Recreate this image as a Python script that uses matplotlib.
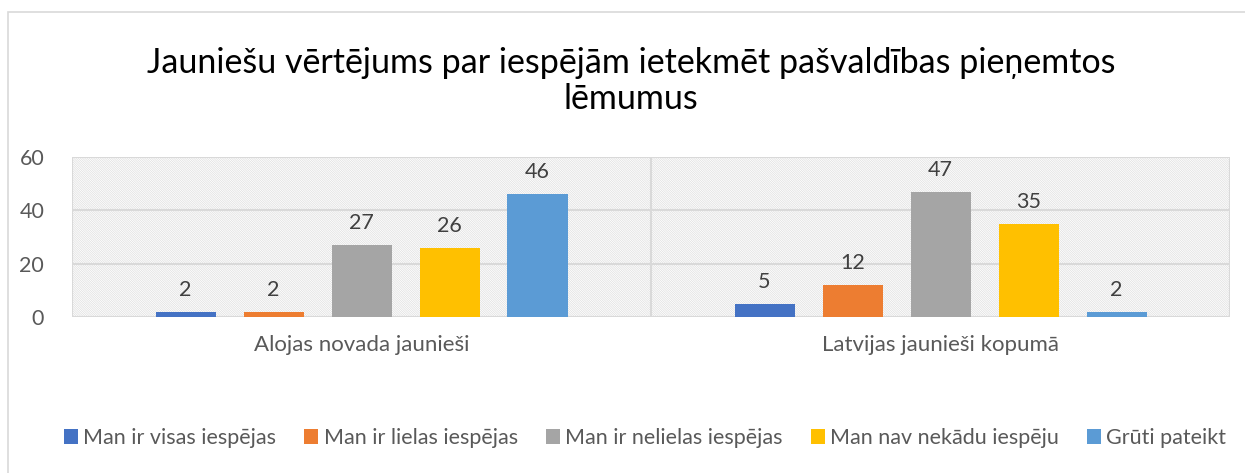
import matplotlib.pyplot as plt
import numpy as np
from matplotlib.patches import Rectangle

categories = ['Alojas novada jaunieši', 'Latvijas jaunieši kopumā']
series = ['Man ir visas iespējas', 'Man ir lielas iespējas', 'Man ir nelielas iespējas',
          'Man nav nekādu iespēju', 'Grūti pateikt']
values = [
    [2, 5],
    [2, 12],
    [27, 47],
    [26, 35],
    [46, 2],
]
colors = ['#4472C4', '#ED7D31', '#A5A5A5', '#FFC000', '#5B9BD5']

plt.rcParams['font.family'] = ['Lato', 'DejaVu Sans']
plt.rcParams['hatch.linewidth'] = 0.5
plt.rcParams['hatch.color'] = '#dedede'

fig = plt.figure(figsize=(12.45, 4.73), dpi=100)
ax = fig.add_axes([72 / 1245, 1 - 317 / 473, (1230 - 72) / 1245, 160 / 473])

# chart frame
fig.patches.append(Rectangle((8 / 1245, -0.1), 1.2, 1 - 12 / 473 + 0.1, transform=fig.transFigure,
                             fill=False, edgecolor='#d9d9d9', linewidth=1.2))

# hatched plot area
ax.add_patch(Rectangle((0, 0), 2, 60, facecolor='white', hatch='\\' * 15, edgecolor='#dedede',
                       linewidth=0, zorder=0))

x = np.arange(len(categories)) + 0.5
step = 88 / 579
width = 60 / 579
for i, (name, vals) in enumerate(zip(series, values)):
    pos = x + (i - 2) * step
    ax.bar(pos, vals, width, color=colors[i], label=name, zorder=3)
    for p, v in zip(pos, vals):
        ax.text(p, v + 4.5, str(v), ha='center', va='bottom', fontsize=15.5, color='#404040')

ax.set_xlim(0, 2)
ax.set_ylim(0, 60)
ax.set_yticks([0, 20, 40, 60])
ax.set_xticks(x)
ax.set_xticklabels(categories, fontsize=16, color='#595959')
ax.tick_params(axis='y', labelsize=15.5, labelcolor='#595959', length=0, pad=20)
ax.tick_params(axis='x', length=0, pad=13)
for y in [0, 20, 40, 60]:
    ax.axhline(y, color='#d9d9d9', linewidth=1.5, zorder=1)
for xv in [0, 1, 2]:
    ax.axvline(xv, color='#d9d9d9', linewidth=1.5, zorder=1)
for s in ax.spines.values():
    s.set_visible(False)

fig.text(631 / 1245, 1 - 81 / 473, 'Jauniešu vērtējums par iespējām ietekmēt pašvaldības pieņemtos\nlēmumus',
         ha='center', va='center', fontsize=24.5, color='black', linespacing=1.15)

fig.legend(loc='center', bbox_to_anchor=(645 / 1245, 1 - 438 / 473), ncol=5, frameon=False,
           fontsize=15.5, labelcolor='#595959', handlelength=0.65, handleheight=0.65,
           handletextpad=0.25, columnspacing=1.3)

fig.savefig('out.png', dpi=100)
